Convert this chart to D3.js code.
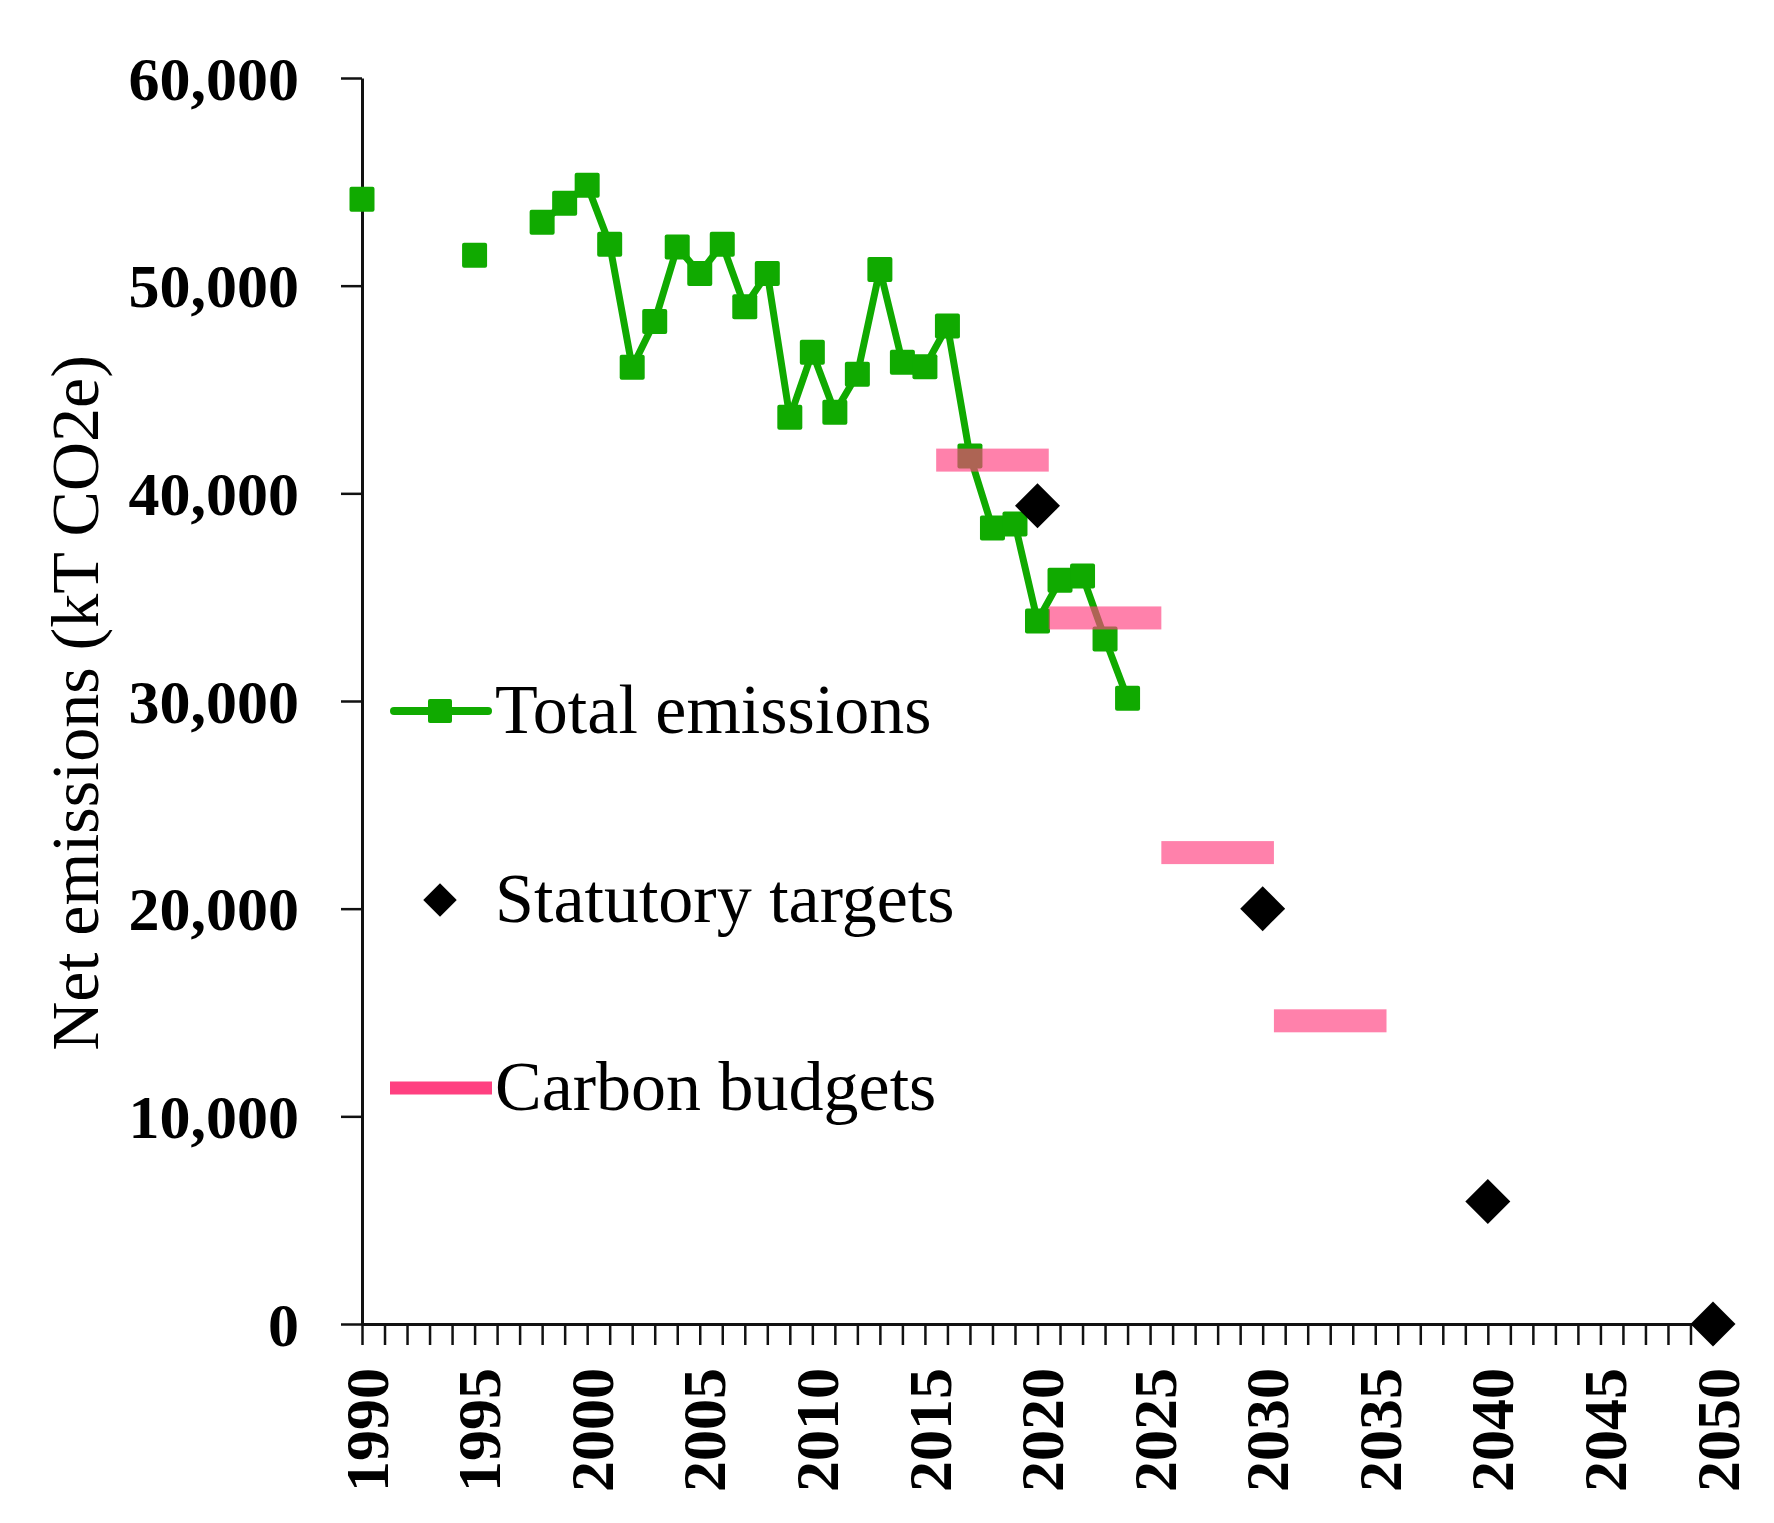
<!DOCTYPE html>
<html>
<head>
<meta charset="utf-8">
<script src="https://cdn.jsdelivr.net/npm/d3@7"></script>
<style>
	body { margin: 0; background: #fff; }
	svg { display: block; font-family: "Liberation Serif", "Times New Roman", serif; }
</style>
</head>
<body>
<div id="chart"></div>
<script>
// yearly net emissions (kT CO2e), null where no figure is published
const years = [1990, 1991, 1992, 1993, 1994, 1995, 1996, 1997, 1998, 1999,
	2000, 2001, 2002, 2003, 2004, 2005, 2006, 2007, 2008, 2009,
	2010, 2011, 2012, 2013, 2014, 2015, 2016, 2017, 2018, 2019,
	2020, 2021, 2022, 2023, 2024];
const emissions = [54160, null, null, null, null, 51460, null, null, 53050, 53970,
	54830, 51990, 46070, 48280, 51860, 50590, 52000, 48990, 50590, 43660,
	46790, 43900, 45730, 50780, 46310, 46100, 48060, 41800, 38330, 38520,
	33850, 35810, 36020, 32990, 30130];

// statutory targets
const targetYears = [2020, 2030, 2040, 2050];
const targetValues = [39400, 20000, 5900, 0];

// carbon budgets (average per year over the period)
const budgetStart = [2016, 2021, 2026, 2031];
const budgetEnd = [2020, 2025, 2030, 2035];
const budgetValues = [41600, 34000, 22700, 14600];

const yTicks = [0, 10000, 20000, 30000, 40000, 50000, 60000];
const legendLabels = ["Total emissions", "Statutory targets", "Carbon budgets"];

class EmissionsChart {
	constructor(options) {
		this._options = options;
		this._svgEl = null;
		this._x = null;
		this._y = null;
	}

	render(selector) {
		const o = this._options;
		this._svgEl = d3.select(selector).append("svg")
			.attr("width", o.width)
			.attr("height", o.height);

		this._x = d3.scaleLinear().domain([1990, 2050]).range([362, 1713]);
		this._y = d3.scaleLinear().domain([0, 60000]).range([1324, 78]);

		this._renderAxes();
		this._renderEmissions();
		this._renderBudgets();
		this._renderTargets();
		this._renderLegend();
		return this;
	}

	_renderAxes() {
		const o = this._options;
		const x = this._x, y = this._y;
		const svg = this._svgEl;

		// y axis
		const yAxis = svg.append("g")
			.call(d3.axisLeft(y)
				.tickValues(yTicks)
				.tickSize(21)
				.tickSizeOuter(0)
				.tickPadding(42)
				.tickFormat(d3.format(",")))
			.attr("transform", `translate(${x(1990)},0)`);

		// x axis, one tick a year, labels every five
		const xAxis = svg.append("g")
			.attr("transform", `translate(0,${y(0)})`)
			.call(d3.axisBottom(x)
				.tickValues(d3.range(1990, 2051))
				.tickSize(21)
				.tickSizeOuter(0)
				.tickFormat(d => d % 5 === 0 ? d : ""));
		xAxis.selectAll("text")
			.attr("transform", "rotate(-90)")
			.attr("text-anchor", "end")
			.attr("x", -44)
			.attr("y", 4);

		[xAxis, yAxis].forEach(ax => {
			ax.attr("font-family", null).attr("font-size", 62).attr("font-weight", "bold");
			ax.selectAll("text").attr("dy", "0.34em").attr("fill", "#000");
		});

		svg.selectAll(".domain").attr("stroke", o.axisColor).attr("stroke-width", 3);
		svg.selectAll(".tick line").attr("stroke", o.axisColor).attr("stroke-width", 2.5);

		// axis title
		svg.append("text")
			.attr("transform", `translate(98,${(y(0) + y(60000)) / 2 + 2}) rotate(-90)`)
			.attr("text-anchor", "middle")
			.attr("font-size", 68)
			.text("Net emissions (kT CO2e)");
	}

	_renderEmissions() {
		const o = this._options;
		const x = this._x, y = this._y;
		const data = years.map((yr, i) => ({year: yr, value: emissions[i]}));

		const line = d3.line()
			.defined(d => d.value !== null)
			.x(d => x(d.year))
			.y(d => y(d.value));

		this._svgEl.append("path")
			.datum(data)
			.attr("fill", "none")
			.attr("stroke", o.green)
			.attr("stroke-width", 7)
			.attr("stroke-linejoin", "round")
			.attr("d", line);

		const s = o.squareSize;
		this._svgEl.append("g").selectAll("rect")
			.data(data.filter(d => d.value !== null))
			.join("rect")
			.attr("x", d => x(d.year) - s / 2)
			.attr("y", d => y(d.value) - s / 2)
			.attr("width", s)
			.attr("height", s)
			.attr("rx", 2)
			.attr("fill", o.green);
	}

	_renderBudgets() {
		const o = this._options;
		const x = this._x, y = this._y;
		const h = o.budgetHeight;
		const data = budgetValues.map((v, i) => ({start: budgetStart[i], end: budgetEnd[i], value: v}));

		// each budget covers whole years, so span half a year either side
		this._svgEl.append("g").selectAll("rect")
			.data(data)
			.join("rect")
			.attr("x", d => x(d.start - 0.5))
			.attr("width", d => x(d.end + 0.5) - x(d.start - 0.5))
			.attr("y", d => y(d.value) - h / 2)
			.attr("height", h)
			.attr("fill", o.pink)
			.attr("fill-opacity", 0.66);
	}

	_renderTargets() {
		const x = this._x, y = this._y;
		const diamond = d3.symbol().type(d3.symbolSquare).size(1012);

		this._svgEl.append("g").selectAll("path")
			.data(targetYears.map((yr, i) => ({year: yr, value: targetValues[i]})))
			.join("path")
			.attr("transform", d => `translate(${x(d.year)},${y(d.value)}) rotate(45)`)
			.attr("d", diamond)
			.attr("fill", "#000");
	}

	_renderLegend() {
		const o = this._options;
		const g = this._svgEl.append("g");
		const rowY = [711, 900, 1088];
		const s = o.squareSize - 1;

		g.append("line")
			.attr("x1", 394).attr("x2", 488)
			.attr("y1", rowY[0]).attr("y2", rowY[0])
			.attr("stroke", o.green)
			.attr("stroke-width", 8)
			.attr("stroke-linecap", "round");
		g.append("rect")
			.attr("x", 440 - s / 2).attr("y", rowY[0] - s / 2)
			.attr("width", s).attr("height", s)
			.attr("rx", 2)
			.attr("fill", o.green);

		g.append("path")
			.attr("transform", `translate(440,${rowY[1]}) rotate(45)`)
			.attr("d", d3.symbol().type(d3.symbolSquare).size(560))
			.attr("fill", "#000");

		g.append("rect")
			.attr("x", 390).attr("y", rowY[2] - 6.5)
			.attr("width", 102).attr("height", 13)
			.attr("fill", o.pink);

		g.selectAll("text")
			.data(legendLabels)
			.join("text")
			.attr("x", 495)
			.attr("y", (d, i) => rowY[i] + 22)
			.attr("font-size", 70)
			.text(d => d);
	}
}

new EmissionsChart({
	width: 1774,
	height: 1523,
	axisColor: "#111",
	green: "#10AA00",
	pink: "#FF4080",
	squareSize: 25,
	budgetHeight: 23
}).render("#chart");
</script>
</body>
</html>
